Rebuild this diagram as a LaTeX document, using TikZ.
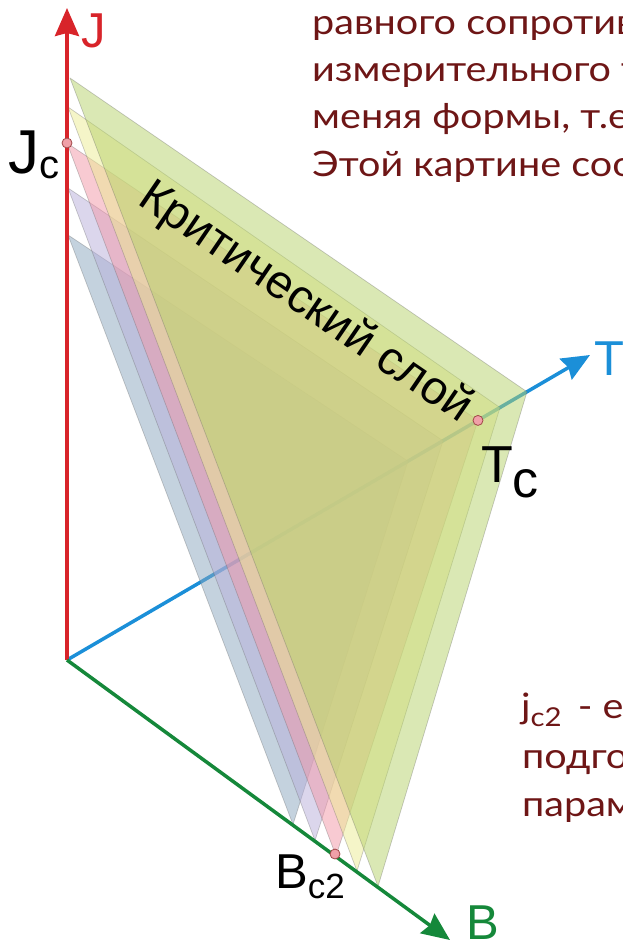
\documentclass[tikz,border=0pt]{standalone}
\usepackage{fontspec}
\setmainfont{Liberation Sans}
\newfontfamily\slidefont[FakeStretch=1.13]{Lato}
\usetikzlibrary{arrows.meta}
\definecolor{jred}{HTML}{D8242A}
\definecolor{tblue}{HTML}{1B8FD8}
\definecolor{bgreen}{HTML}{15883A}
\definecolor{maroon}{HTML}{6E1616}
\definecolor{lgreen}{HTML}{B5D169}
\definecolor{lyellow}{HTML}{EBEB91}
\definecolor{lpink}{HTML}{F296A6}
\definecolor{llav}{HTML}{B8AEDA}
\definecolor{lblue}{HTML}{89A5BD}
\definecolor{dotpink}{HTML}{F0A0A8}
\definecolor{dotedge}{HTML}{A04848}
\tikzset{
  layer/.style={draw=black!60, draw opacity=0.35, line width=0.7pt, fill opacity=0.5, line join=round},
  axisline/.style={line width=3.5pt, -{Stealth[length=28pt,width=24pt,inset=3pt]}},
  cdot/.style={circle, minimum size=10pt, inner sep=0pt, fill=dotpink, draw=dotedge, line width=0.8pt},
  axlab/.style={font=\fontsize{49}{49}\selectfont, anchor=base west, inner sep=0pt},
  ptlab/.style={anchor=base west, inner sep=0pt, text=black},
  slide/.style={font=\slidefont\fontsize{35}{35}\selectfont, text=maroon, anchor=base west, inner sep=0pt}
}
\begin{document}
\begin{tikzpicture}[x=1pt,y=-1pt]
\useasboundingbox (0,0) rectangle (623,945);
\clip (0,0) rectangle (623,945);
% axes points
\coordinate (O) at (67,660);
\coordinate (Jtip) at (67,8);
\coordinate (Ttip) at (590,355);
\coordinate (Btip) at (450,940);
% layer vertices
\coordinate (J1) at (68,235); \coordinate (T1) at (408,461.2); \coordinate (B1) at (293,824.5);
\coordinate (J2) at (68,188); \coordinate (T2) at (443,440.8); \coordinate (B2) at (315,840.5);
\coordinate (J3) at (67,143); \coordinate (T3) at (478,420.4); \coordinate (B3) at (336,855.8);
\coordinate (J4) at (68,107); \coordinate (T4) at (500,407.6); \coordinate (B4) at (357,871);
\coordinate (J5) at (70,78);  \coordinate (T5) at (527,391.8); \coordinate (B5) at (378,886.4);
% T axis behind the layers
\draw[axisline, tblue] (O) -- (Ttip);
% layers
\filldraw[layer, fill=lblue]   (J1) -- (T1) -- (B1) -- cycle;
\filldraw[layer, fill=llav]    (J2) -- (T2) -- (B2) -- cycle;
\filldraw[layer, fill=lpink]   (J3) -- (T3) -- (B3) -- cycle;
\filldraw[layer, fill=lyellow] (J4) -- (T4) -- (B4) -- cycle;
\filldraw[layer, fill=lgreen]  (J5) -- (T5) -- (B5) -- cycle;
% J and B axes
\draw[axisline, jred] (O) -- (Jtip);
\draw[axisline, bgreen] (O) -- (Btip);
% critical points
\node[cdot] (jc) at (J3) {};
\node[cdot] (tc) at (T3) {};
\node[cdot] (bc) at (335,854) {};
% axis labels
\node[axlab, text=jred] (jlab) at (81,47) {J};
\node[axlab, text=tblue] (tlab) at (594,375) {T};
\node[axlab, text=bgreen] (blab) at (466,939) {B};
% point labels
\node[ptlab, font=\fontsize{62}{62}\selectfont] (jclab) at (8,173) {J\raisebox{-5pt}{\fontsize{40}{40}\selectfont c}};
\node[ptlab, font=\fontsize{52}{52}\selectfont] (tclab) at (481,482) {T\raisebox{-15pt}{c}};
\node[ptlab, font=\fontsize{49}{49}\selectfont] (bclab) at (275,888) {B\raisebox{-10pt}{\fontsize{35}{35}\selectfont c2}};
% layer caption
\node[inner sep=0pt, rotate=-34.3, font=\fontsize{47}{47}\selectfont] (crit) at (305,303) {Критический слой};
% slide text (cut off at the right edge)
\node[slide] (s1) at (312,34) {равного сопротив};
\node[slide] (s2) at (312,81) {измерительного т};
\node[slide] (s3) at (312,128) {меняя формы, т.е};
\node[slide] (s4) at (312,176) {Этой картине соо};
\node[slide] (s5) at (521,718) {j\raisebox{-8pt}{\fontsize{26}{26}\selectfont c2}\hspace{16pt}- е};
\node[slide] (s6) at (522,768) {подго};
\node[slide] (s7) at (522,816) {парам};
\end{tikzpicture}
\end{document}
